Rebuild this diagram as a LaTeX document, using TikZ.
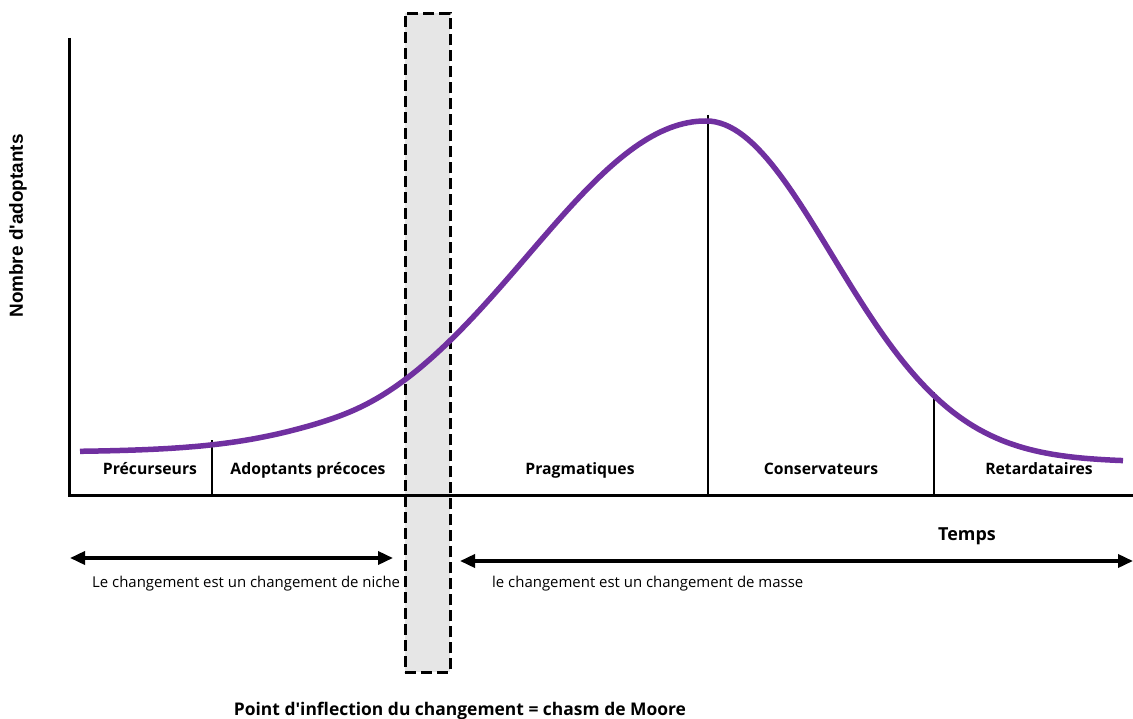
\documentclass[tikz,border=0pt]{standalone}
\usepackage{fontspec}
\setmainfont{Open Sans}
\newfontfamily\axisfont{Liberation Sans}
\usetikzlibrary{arrows.meta}
\definecolor{curvepurple}{HTML}{7030A0}
\definecolor{chasmgray}{HTML}{E6E6E6}
\begin{document}
\begin{tikzpicture}[x=1bp,y=-1bp,
  axisline/.style={line width=3bp,black},
  divider/.style={line width=1.6bp,black},
  segment/.style={font=\fontsize{15.8}{18}\selectfont\bfseries,inner sep=0pt,anchor=base},
  note/.style={font=\fontsize{15}{17}\selectfont,inner sep=0pt,anchor=base west},
  span/.style={line width=3.5bp,{Triangle[length=15bp,width=13bp]}-{Triangle[length=15bp,width=13bp]}},
  chasm/.style={draw=black,fill=chasmgray,line width=2.6bp,dash pattern=on 11bp off 5bp}]
\useasboundingbox (0,0) rectangle (1133,719);

% chasm band
\node[chasm,minimum width=45bp,minimum height=659bp,inner sep=0pt,anchor=north west] (chasm) at (404,12) {};

% axes
\coordinate (origin) at (69,495);
\coordinate (ytop) at (69,38);
\coordinate (xend) at (1133,495);
\draw[axisline] (ytop) -- (origin) -- (xend);

% segment dividers
\coordinate (d1t) at (212,440); \coordinate (d1b) at (212,495);
\coordinate (d2t) at (708,115); \coordinate (d2b) at (708,495);
\coordinate (d3t) at (934,392); \coordinate (d3b) at (934,495);
\draw[divider] (d1t) -- (d1b);
\draw[divider] (d2t) -- (d2b);
\draw[divider] (d3t) -- (d3b);

% adoption curve: skewed bell (wider rising side) plus a small early-adopter shoulder
\draw[curvepurple,line width=5.5bp,line join=round]
  plot[domain=80:706,samples=140]
    ({\x},{462-341*exp(-((\x-706)/100)^2/6.337)-10/(1+exp(min((\x-340)/25,9)))})
  -- plot[domain=706:1123,samples=90]
    ({\x},{462-341*exp(-((\x-706)/100)^2/3.175)});

% segment labels
\node[segment] (precurseurs) at (150,474) {Précurseurs};
\node[segment] (adoptants) at (308,474) {Adoptants précoces};
\node[segment] (pragmatiques) at (580,474) {Pragmatiques};
\node[segment] (conservateurs) at (821,474) {Conservateurs};
\node[segment] (retardataires) at (1039,474) {Retardataires};

% axis titles
\node[segment,font=\fontsize{18}{20}\selectfont\bfseries] (temps) at (967,540) {Temps};
\node[font=\axisfont\fontsize{19}{21}\selectfont\bfseries,rotate=90,inner sep=0pt] (nombre) at (18,226) {Nombre d\textquotesingle adoptants};

% niche / mass spans
\coordinate (n1) at (70,558); \coordinate (n2) at (393,558);
\coordinate (m1) at (460,561); \coordinate (m2) at (1133,561);
\draw[span] (n1) -- (n2);
\draw[span] (m1) -- (m2);
\node[note] (niche) at (92,587) {Le changement est un changement de niche};
\node[note] (masse) at (492,587) {le changement est un changement de masse};

% bottom caption
\node[font=\fontsize{17.5}{19}\selectfont\bfseries,inner sep=0pt,anchor=base] (caption) at (460,715) {Point d\textquotesingle inflection du changement = chasm de Moore};
\end{tikzpicture}
\end{document}
